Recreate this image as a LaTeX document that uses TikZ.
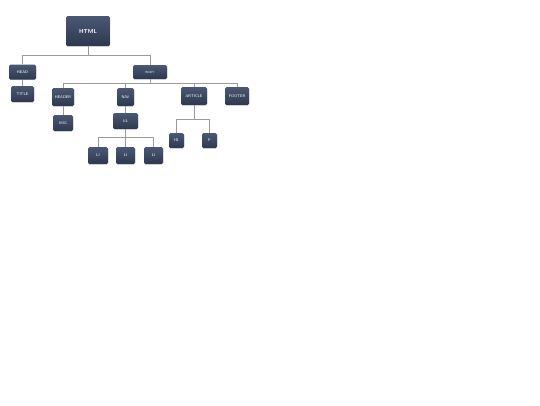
\documentclass[tikz,border=0pt]{standalone}
\usetikzlibrary{shadows}
\definecolor{tagtop}{HTML}{4A5873}
\definecolor{tagbot}{HTML}{2E394F}
\definecolor{linkgray}{HTML}{9A9A9A}

\begin{document}
\begin{tikzpicture}[x=1pt, y=-1pt,
  tag/.style={rounded corners=1.5pt, top color=tagtop, bottom color=tagbot,
    text=white, inner sep=0pt, font=\sffamily\fontsize{3.9}{4.5}\selectfont,
    drop shadow={shadow xshift=0.4pt, shadow yshift=-0.7pt, fill=black!30}},
  link/.style={draw=linkgray, line width=0.5pt}]
\useasboundingbox (0,0) rectangle (540,405);

\node[tag, minimum width=44pt, minimum height=30pt, font=\sffamily\bfseries\fontsize{5.8}{6.5}\selectfont] (html) at (88,31) {HTML};
\node[tag, minimum width=27pt, minimum height=15pt] (head) at (22.5,72) {HEAD};
\node[tag, minimum width=23pt, minimum height=16pt] (title) at (22.5,94) {TITLE};
\node[tag, minimum width=34pt, minimum height=14pt, font=\sffamily\fontsize{3}{3.5}\selectfont] (body) at (150,72) {BODY};
\node[tag, minimum width=22pt, minimum height=18pt] (header) at (63,97) {HEADER};
\node[tag, minimum width=17pt, minimum height=18pt] (nav) at (125.5,97) {NAV};
\node[tag, minimum width=26pt, minimum height=18pt] (article) at (194,96) {ARTICLE};
\node[tag, minimum width=24pt, minimum height=18pt] (footer) at (237,96) {FOOTER};
\node[tag, minimum width=20pt, minimum height=16pt] (img) at (63,123) {IMG};
\node[tag, minimum width=25pt, minimum height=16pt] (ul) at (125.5,121) {UL};
\node[tag, minimum width=20pt, minimum height=17pt] (li1) at (98,155.5) {LI};
\node[tag, minimum width=19pt, minimum height=17pt] (li2) at (125.5,155.5) {LI};
\node[tag, minimum width=19pt, minimum height=17pt] (li3) at (153.5,155.5) {LI};
\node[tag, minimum width=15pt, minimum height=15pt] (h1) at (176.5,140.5) {H1};
\node[tag, minimum width=15pt, minimum height=15pt] (p) at (209.5,140.5) {P};

\draw[link] (html.south) -- ++(0,9) -| (head.north);
\draw[link] (html.south) -- ++(0,9) -| (body.north);
\draw[link] (head) -- (title);
\foreach \c in {header,nav,article,footer}
  \draw[link] (body.south) -- ++(0,4) -| (\c.north);
\draw[link] (header) -- (img);
\draw[link] (nav) -- (ul);
\foreach \c in {li1,li2,li3}
  \draw[link] (ul.south) -- ++(0,8) -| (\c.north);
\draw[link] (article.south) -- ++(0,14) -| (h1.north);
\draw[link] (article.south) -- ++(0,14) -| (p.north);

\end{tikzpicture}
\end{document}
